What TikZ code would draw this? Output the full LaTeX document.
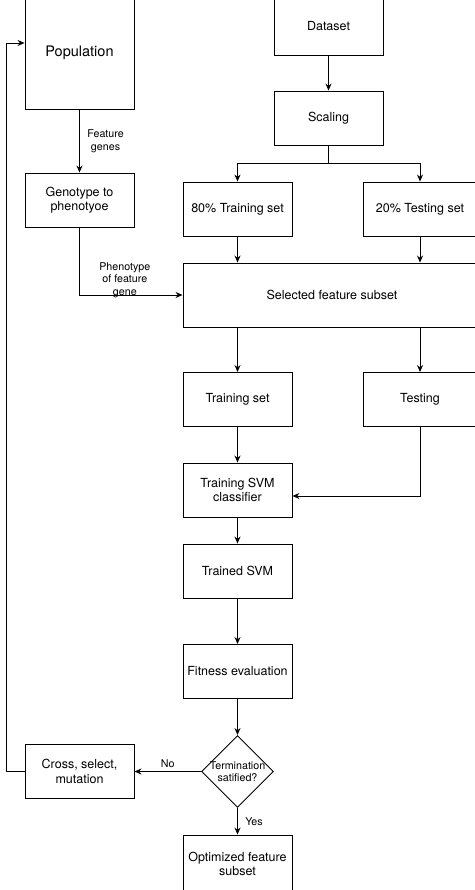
\documentclass[tikz,border=0pt]{standalone}
\usepackage{fontspec}
\setmainfont{TeX Gyre Heros}
\usetikzlibrary{arrows.meta,shapes.geometric,positioning}

\begin{document}
\begin{tikzpicture}[x=1pt, y=-1pt, line width=0.9pt,
  box/.style={draw, minimum width=109pt, minimum height=54pt, align=center, inner sep=1pt, font=\fontsize{12.5}{14.5}\selectfont},
  lbl/.style={align=center, font=\fontsize{10.7}{12.6}\selectfont},
  arr/.style={-{Stealth[length=7pt, width=6pt]}}]
\useasboundingbox (0,0) rectangle (474,890);
% Genetic algorithm side
\node[box, minimum height=112pt, font=\fontsize{14.5}{17}\selectfont] (pop) at (79.5,53) {Population};
\node[box] (geno) at (79.5,200) {Genotype to\\phenotyoe};
\node[box] (cross) at (79.5,771.5) {Cross, select,\\mutation};
% Data preparation
\node[box, minimum height=58pt] (data) at (328.5,26) {Dataset};
\node[box] (scal) at (328.5,118) {Scaling};
\node[box] (tr80) at (237.5,209) {80\% Training set};
\node[box, minimum width=113pt] (te20) at (420,209) {20\% Testing set};
\node[box, minimum width=298pt, minimum height=64pt] (sel) at (332,295) {Selected feature subset};
% Classifier
\node[box] (trs) at (237.5,399.5) {Training set};
\node[box, minimum width=113pt] (test) at (420,399.5) {Testing};
\node[box] (svm) at (237.5,490) {Training SVM\\classifier};
\node[box] (tsvm) at (237.5,571) {Trained SVM};
\node[box] (fit) at (237.5,671.5) {Fitness evaluation};
\node[draw, diamond, aspect=1, minimum size=72pt, inner sep=-3pt, lbl] (term) at (237.5,771.5) {Termination\\satified?};
\node[box, minimum height=58pt] (opt) at (237.5,864) {Optimized feature\\subset};
% Connectors
\draw[arr] (pop) -- (geno) node[lbl, midway, right, xshift=4pt]{Feature\\genes};
\draw[arr] (geno.south) |- (sel.west) node[lbl, pos=0.72, above, inner sep=0pt, yshift=-3pt]{Phenotype\\of feature\\gene};
\draw[arr] (data) -- (scal);
\coordinate (split) at ([yshift=-18pt]scal.south);
\draw (scal.south) -- (split);
\draw[arr] (split) -| (tr80.north);
\draw[arr] (split) -| (te20.north);
\draw[arr] (tr80.south) -- (tr80.south |- sel.north);
\draw[arr] (te20.south) -- (te20.south |- sel.north);
\draw[arr] (sel.south -| trs.north) -- (trs.north);
\draw[arr] (sel.south -| test.north) -- (test.north);
\draw[arr] (trs) -- (svm);
\draw[arr] (test.south) |- ([yshift=-6pt]svm.east);
\draw[arr] (svm) -- (tsvm);
\draw[arr] (tsvm) -- (fit);
\draw[arr] (fit) -- (term);
\draw[arr] (term) -- (cross) node[lbl, midway, above]{No};
\draw[arr] (term) -- (opt) node[lbl, midway, right, xshift=4pt]{Yes};
% Loop back to the population
\draw[arr] (cross.west) -- ++(-18,0) |- ([yshift=10pt]pop.west);
\end{tikzpicture}
\end{document}
